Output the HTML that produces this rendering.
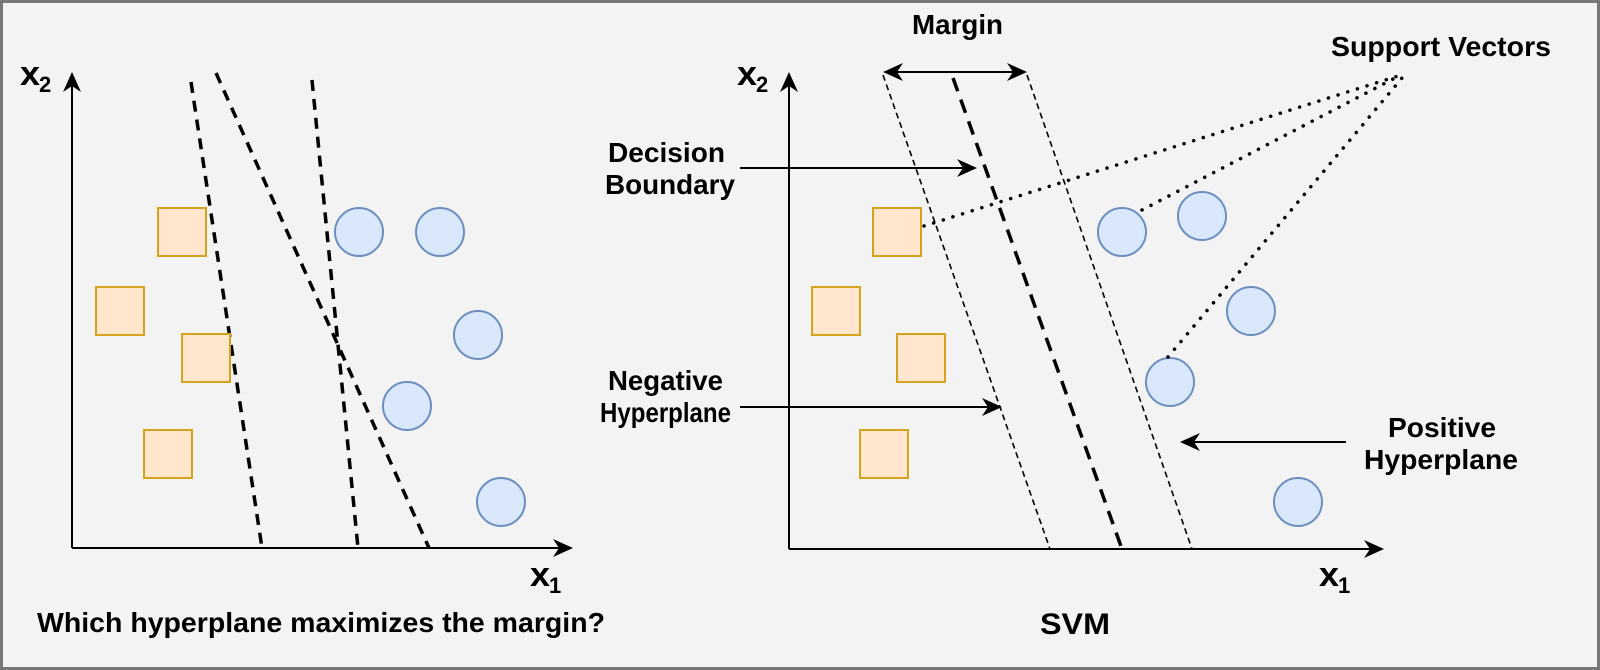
<!DOCTYPE html>
<html><head><meta charset="utf-8"><style>
html,body{margin:0;padding:0;background:#f3f3f3}
svg{display:block}
text{font-family:"Liberation Sans",sans-serif;font-weight:bold;fill:#000}
</style></head><body>
<svg width="1600" height="670" viewBox="0 0 1600 670" xmlns="http://www.w3.org/2000/svg">
<rect x="1.5" y="1.5" width="1597" height="667" fill="#f3f3f3" stroke="#777" stroke-width="3"/>

<!-- LEFT PANEL -->
<line x1="72" y1="548" x2="72" y2="80" stroke="#000" stroke-width="2"/>
<path d="M72 72 L63 92 L72 86 L81 92 Z" fill="#000"/>
<line x1="72" y1="548" x2="565" y2="548" stroke="#000" stroke-width="2"/>
<path d="M573 548 L553 539 L559 548 L553 557 Z" fill="#000"/>
<text x="20" y="85" font-size="34" textLength="20" lengthAdjust="spacingAndGlyphs">x</text>
<text x="39" y="92" font-size="22">2</text>
<text x="530" y="586" font-size="34" textLength="20" lengthAdjust="spacingAndGlyphs">x</text>
<text x="549" y="593" font-size="22">1</text>

<g stroke="#000" stroke-width="3.5" stroke-dasharray="11 8" fill="none">
<line x1="191" y1="82" x2="262" y2="548"/>
<line x1="216" y1="73" x2="429" y2="548"/>
<line x1="312" y1="80" x2="358" y2="548"/>
</g>
<g fill="#ffe6cc" stroke="#d6a31e" stroke-width="2">
<rect x="158" y="208" width="48" height="48"/>
<rect x="96" y="287" width="48" height="48"/>
<rect x="182" y="334" width="48" height="48"/>
<rect x="144" y="430" width="48" height="48"/>
</g>
<g fill="#dae8fc" stroke="#6c8ebf" stroke-width="2">
<ellipse cx="359" cy="232" rx="24" ry="24"/>
<ellipse cx="440" cy="232" rx="24" ry="24"/>
<ellipse cx="478" cy="335" rx="24" ry="24"/>
<ellipse cx="407" cy="406" rx="24" ry="24"/>
<ellipse cx="501" cy="502" rx="24" ry="24"/>
</g>
<text x="37" y="632" font-size="28" textLength="568" lengthAdjust="spacingAndGlyphs">Which hyperplane maximizes the margin?</text>

<!-- RIGHT PANEL -->
<line x1="789" y1="549" x2="789" y2="80" stroke="#000" stroke-width="2"/>
<path d="M789 72 L780 92 L789 86 L798 92 Z" fill="#000"/>
<line x1="789" y1="549" x2="1376" y2="549" stroke="#000" stroke-width="2"/>
<path d="M1384 549 L1364 540 L1370 549 L1364 558 Z" fill="#000"/>
<text x="737" y="85" font-size="34" textLength="20" lengthAdjust="spacingAndGlyphs">x</text>
<text x="756" y="92" font-size="22">2</text>
<text x="1319" y="586" font-size="34" textLength="20" lengthAdjust="spacingAndGlyphs">x</text>
<text x="1338" y="593" font-size="22">1</text>

<g stroke="#000" stroke-width="1.6" stroke-dasharray="6 4" fill="none">
<line x1="883" y1="75" x2="1050" y2="549"/>
<line x1="1027" y1="75" x2="1192" y2="549"/>
</g>
<line x1="953" y1="78" x2="1122" y2="549" stroke="#000" stroke-width="3.5" stroke-dasharray="14 9"/>

<line x1="890" y1="72" x2="1020" y2="72" stroke="#000" stroke-width="2"/>
<path d="M883 72 L903 63 L897 72 L903 81 Z" fill="#000"/>
<path d="M1027 72 L1007 63 L1013 72 L1007 81 Z" fill="#000"/>
<text x="912" y="34" font-size="28" textLength="91" lengthAdjust="spacingAndGlyphs">Margin</text>

<g fill="#ffe6cc" stroke="#d6a31e" stroke-width="2">
<rect x="873" y="208" width="48" height="48"/>
<rect x="812" y="287" width="48" height="48"/>
<rect x="897" y="334" width="48" height="48"/>
<rect x="860" y="430" width="48" height="48"/>
</g>
<g fill="#dae8fc" stroke="#6c8ebf" stroke-width="2">
<ellipse cx="1122" cy="232" rx="24" ry="24"/>
<ellipse cx="1202" cy="216" rx="24" ry="24"/>
<ellipse cx="1251" cy="311" rx="24" ry="24"/>
<ellipse cx="1170" cy="382" rx="24" ry="24"/>
<ellipse cx="1298" cy="502" rx="24" ry="24"/>
</g>

<g stroke="#000" stroke-width="3.5" stroke-dasharray="0.1 10" stroke-linecap="round" fill="none">
<line x1="924" y1="226" x2="1401" y2="75"/>
<line x1="1142" y1="210" x2="1395" y2="78"/>
<line x1="1168" y1="357" x2="1402" y2="78"/>
</g>
<text x="1331" y="56" font-size="28" textLength="220" lengthAdjust="spacingAndGlyphs">Support Vectors</text>

<text x="608" y="162" font-size="28" textLength="117" lengthAdjust="spacingAndGlyphs">Decision</text>
<text x="605" y="194" font-size="28" textLength="130" lengthAdjust="spacingAndGlyphs">Boundary</text>
<line x1="740" y1="168" x2="970" y2="168" stroke="#000" stroke-width="2"/>
<path d="M977 168 L957 159 L963 168 L957 177 Z" fill="#000"/>

<text x="608" y="390" font-size="28" textLength="115" lengthAdjust="spacingAndGlyphs">Negative</text>
<text x="600" y="422" font-size="28" textLength="131" lengthAdjust="spacingAndGlyphs">Hyperplane</text>
<line x1="740" y1="407" x2="995" y2="407" stroke="#000" stroke-width="2"/>
<path d="M1002 407 L982 398 L988 407 L982 416 Z" fill="#000"/>

<text x="1388" y="437" font-size="28" textLength="108" lengthAdjust="spacingAndGlyphs">Positive</text>
<text x="1364" y="469" font-size="28" textLength="154" lengthAdjust="spacingAndGlyphs">Hyperplane</text>
<line x1="1346" y1="442" x2="1188" y2="442" stroke="#000" stroke-width="2"/>
<path d="M1180 442 L1200 433 L1194 442 L1200 451 Z" fill="#000"/>

<text x="1040" y="634" font-size="30" textLength="70" lengthAdjust="spacingAndGlyphs">SVM</text>
</svg>
</body></html>
